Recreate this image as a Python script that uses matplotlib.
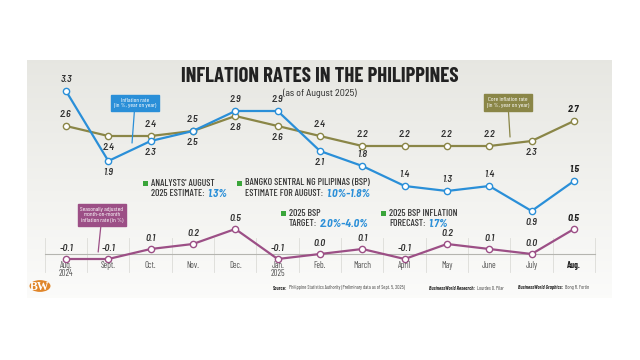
import numpy as np
import matplotlib
matplotlib.use("Agg")
import matplotlib.pyplot as plt
from matplotlib.patches import Circle, Rectangle

months = ["Aug.\n2024", "Sept.", "Oct.", "Nov.", "Dec.", "Jan.\n2025", "Feb.",
          "March", "April", "May", "June", "July", "Aug."]
inflation = [3.3, 1.9, 2.3, 2.5, 2.9, 2.9, 2.1, 1.8, 1.4, 1.3, 1.4, 0.9, 1.5]
core = [2.6, 2.4, 2.4, 2.5, 2.8, 2.6, 2.4, 2.2, 2.2, 2.2, 2.2, 2.3, 2.7]
mom = [-0.1, -0.1, 0.1, 0.2, 0.5, -0.1, 0.0, 0.1, -0.1, 0.2, 0.1, 0.0, 0.5]
# label placement: 1 above, -1 below
infl_pos = [1, -1, -1, 1, 1, 1, -1, 1, 1, 1, 1, -1, 1]
core_pos = [1, -1, 1, -1, -1, -1, 1, 1, 1, 1, 1, -1, 1]

BLUE = "#2a8fd8"
OLIVE = "#8a8647"
PURPLE = "#9c4f86"
GREEN = "#3aa53a"
TXT = "#333333"
COND = ["Barlow Condensed", "DejaVu Sans"]
SEMI = ["Barlow Semi Condensed", "DejaVu Sans"]

W, H = 640, 360
fig = plt.figure(figsize=(6.4, 3.6), dpi=100)
fig.patch.set_facecolor("white")


def box(x0, y0, x1, y1):
    return [x0 / W, 1 - y1 / H, (x1 - x0) / W, (y1 - y0) / H]


def px(x, y):
    return x / W, 1 - y / H


# panel background gradient
bg = fig.add_axes(box(27, 60, 612, 298))
grad = np.linspace(0, 1, 256).reshape(-1, 1)
top_c = np.array([0.905, 0.905, 0.885])
bot_c = np.array([0.985, 0.985, 0.98])
img = top_c + (bot_c - top_c) * grad
bg.imshow(img[:, None, :].repeat(2, axis=1), aspect="auto", extent=[0, 1, 0, 1])
bg.axis("off")

x = np.arange(len(months))
xlim = ((27 - 66) / 42.33, (612 - 66) / 42.33)


def value_labels(axis, vals, pos, off=5):
    for i, (v, p) in enumerate(zip(vals, pos)):
        last = i == len(vals) - 1
        axis.annotate(f"{v:.1f}", (i, v), xytext=(0, off if p > 0 else -off),
                      textcoords="offset points", ha="center",
                      va="bottom" if p > 0 else "top", fontsize=7.1,
                      style="italic", color="#1e1e1e" if last else TXT,
                      fontweight="bold" if last else "semibold", family=SEMI)


# top: year-on-year inflation and core
ax = fig.add_axes(box(27, 70, 612, 220))
ax.set_xlim(*xlim)
ax.set_ylim(0.72, 3.72)
ax.axis("off")
ax.patch.set_alpha(0)

ax.plot(x, core, color=OLIVE, lw=1.6, marker="o", ms=4.5, mfc="white",
        mec=OLIVE, mew=1, zorder=3)
ax.plot(x, inflation, color=BLUE, lw=1.6, marker="o", ms=4.5, mfc="white",
        mec=BLUE, mew=1, zorder=4)
value_labels(ax, inflation, infl_pos)
value_labels(ax, core, core_pos)

ax.annotate("Inflation rate\n(in %, year on year)", xy=(1.56, 2.26),
            xytext=(1.63, 3.06), ha="center", va="center", fontsize=4.6,
            color="white", family=COND, linespacing=1.25,
            bbox=dict(boxstyle="square,pad=0.45", fc=BLUE, ec=BLUE),
            arrowprops=dict(arrowstyle="-", color=BLUE, lw=0.9,
                            shrinkA=0, shrinkB=0), zorder=5)
ax.annotate("Core inflation rate\n(in %, year on year)", xy=(10.49, 2.38),
            xytext=(10.44, 3.07), ha="center", va="center", fontsize=4.6,
            color="white", family=COND, linespacing=1.25,
            bbox=dict(boxstyle="square,pad=0.45", fc=OLIVE, ec=OLIVE),
            arrowprops=dict(arrowstyle="-", color=OLIVE, lw=0.9,
                            shrinkA=0, shrinkB=0), zorder=5)

# bottom: month-on-month
bx = fig.add_axes(box(27, 225, 612, 275))
bx.set_xlim(*xlim)
bx.set_ylim(-0.42, 0.58)
bx.axis("off")
bx.patch.set_alpha(0)

for i in range(len(x) + 1):
    bx.plot([i - 0.5, i - 0.5], [-0.36, 0.32], color="#dcdcd8", lw=0.6,
            zorder=1)
bx.plot([-0.5, len(x) - 0.5], [0, 0], color="#b5b5b0", lw=0.8, zorder=1)
bx.plot(x, mom, color=PURPLE, lw=1.6, marker="o", ms=4.5, mfc="white",
        mec=PURPLE, mew=1, zorder=3)
value_labels(bx, mom, [1] * len(mom), off=4)
for i, m in enumerate(months):
    last = i == len(x) - 1
    bx.text(i, -0.15, m, ha="center", va="top", fontsize=6.3,
            color="#222222" if last else "#555555", family=COND,
            linespacing=0.8, fontweight="bold" if last else "normal")

bx.annotate("Seasonally adjusted\nmonth-on-month\ninflation rate (in %)",
            xy=(0.76, 0.04), xytext=(0.85, 0.78), ha="center", va="center",
            fontsize=4.6, color="white", family=COND, linespacing=1.15,
            bbox=dict(boxstyle="square,pad=0.45", fc=PURPLE, ec=PURPLE),
            arrowprops=dict(arrowstyle="-", color=PURPLE, lw=0.9,
                            shrinkA=0, shrinkB=0),
            annotation_clip=False, zorder=5)

# title
fig.text(*px(320, 77), "INFLATION RATES IN THE PHILIPPINES", ha="center",
         va="center", fontsize=15, fontweight="bold", color="#222222",
         family=COND)
fig.text(*px(320, 93.5), "(as of August 2025)", ha="center", va="center",
         fontsize=7.2, color="#222222", family=SEMI)


# green-bullet notes
def note(xp, yp, line1, line2, value):
    fig.patches.append(Rectangle(px(xp, yp + 3), 5 / W, 5 / H,
                                 transform=fig.transFigure, fc=GREEN,
                                 ec="none"))
    fig.text(*px(xp + 8, yp), line1, ha="left", va="center", fontsize=7,
             color=TXT, family=COND, fontweight="medium")
    t = fig.text(*px(xp + 8, yp + 11), line2, ha="left", va="center",
                 fontsize=7, color=TXT, family=COND, fontweight="medium")
    plt.annotate(value, xy=(1, 0.5), xycoords=t, xytext=(2, 0),
                 textcoords="offset points", ha="left", va="center",
                 fontsize=8, color=BLUE, style="italic",
                 fontweight="bold", family=SEMI)


note(143, 183, "ANALYSTS' AUGUST", "2025 ESTIMATE:", "1.3%")
note(237, 183, "BANGKO SENTRAL NG PILIPINAS (BSP)", "ESTIMATE FOR AUGUST:",
     "1.0%-1.8%")
note(281, 213, "2025 BSP", "TARGET:", "2.0%-4.0%")
note(381, 213, "2025 BSP INFLATION", "FORECAST:", "1.7%")

# footer
logo = Circle(px(40, 286), 10.5 / W, transform=fig.transFigure,
              fc="#e0862a", ec="none")
fig.patches.append(logo)
fig.text(*px(40, 287), "BW", ha="center", va="center", fontsize=8.5,
         color="white", family=["Liberation Serif", "DejaVu Serif"],
         fontweight="bold")


def credit(xp, head, rest):
    t = fig.text(*px(xp, 288), head, ha="left", va="center", fontsize=3.7,
                 color="#333333", family=COND, fontweight="bold",
                 style="italic" if head.startswith("Business") else "normal")
    plt.annotate(rest, xy=(1, 0.5), xycoords=t, xytext=(1.5, 0),
                 textcoords="offset points", ha="left", va="center",
                 fontsize=3.7, color="#444444", family=COND)


credit(273, "Source:", "Philippine Statistics Authority "
       "(Preliminary data as of Sept. 5, 2025)")
credit(429, "BusinessWorld Research:", "Lourdes O. Pilar")
credit(518, "BusinessWorld Graphics:", "Bong R. Fortin")

fig.savefig("out.png", dpi=100)
